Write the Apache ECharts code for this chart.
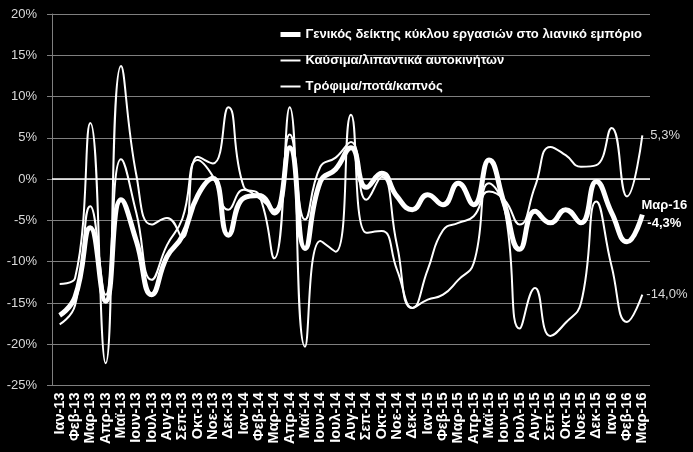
<!DOCTYPE html>
<html><head><meta charset="utf-8">
<script src="https://cdn.jsdelivr.net/npm/echarts@6/dist/echarts.min.js"></script>
<style>html,body{margin:0;padding:0;background:#000;}#c{width:693px;height:452px;}</style>
</head><body><div id="c"></div>
<script>
const categories = ['Ιαν-13','Φεβ-13','Μαρ-13','Απρ-13','Μαϊ-13','Ιουν-13','Ιουλ-13','Αυγ-13','Σεπ-13','Οκτ-13','Νοε-13','Δεκ-13',
  'Ιαν-14','Φεβ-14','Μαρ-14','Απρ-14','Μαϊ-14','Ιουν-14','Ιουλ-14','Αυγ-14','Σεπ-14','Οκτ-14','Νοε-14','Δεκ-14',
  'Ιαν-15','Φεβ-15','Μαρ-15','Απρ-15','Μαϊ-15','Ιουν-15','Ιουλ-15','Αυγ-15','Σεπ-15','Οκτ-15','Νοε-15','Δεκ-15',
  'Ιαν-16','Φεβ-16','Μαρ-16'];
const seriesNames = ['Γενικός δείκτης κύκλου εργασιών στο λιανικό εμπόριο','Καύσιμα/λιπαντικά αυτοκινήτων','Τρόφιμα/ποτά/καπνός'];
const general = [-16.5,-14.3,-5.9,-14.8,-2.5,-7.5,-14.0,-9.4,-6.9,-2.0,0.1,-6.8,
  -2.3,-2.0,-4.1,3.8,-8.4,-0.3,1.2,3.8,-1.0,0.7,-2.1,-3.7,
  -1.9,-3.1,-0.5,-3.1,2.3,-3.0,-8.5,-3.9,-5.3,-3.7,-5.3,-0.3,
  -4.1,-7.6,-4.3];
const fuel = [-17.6,-15.3,-3.3,-14.0,2.4,-4.1,-12.2,-8.0,-4.8,2.3,0.3,-3.7,
  -1.3,-2.3,-3.7,5.4,-4.9,1.5,2.6,4.5,-2.5,0.3,-8.0,-15.6,
  -14.6,-14.0,-12.2,-10.2,-0.5,-3.5,-18.1,-13.2,-19.0,-17.4,-15.0,-2.7,
  -10.6,-17.3,-14.0];
const food = [-12.7,-12.0,6.8,-22.3,13.7,0.5,-5.5,-4.7,-7.1,2.7,1.9,8.7,
  -0.9,-1.9,-9.6,8.7,-20.3,-7.5,-8.8,7.8,-6.5,-6.3,-11.0,-15.6,
  -11.0,-6.2,-5.3,-4.5,-1.5,-2.5,-5.5,-0.9,3.9,2.9,1.5,1.7,
  6.2,-2.1,5.3];
const yMin = -25, yMax = 20, yStep = 5;

const FONT = 'Liberation Sans';
const fmt = v => v.toFixed(1).replace('.', ',') + '%';
const chart = echarts.init(document.getElementById('c'), null, {renderer: 'canvas'});
const base = {type: 'line', smooth: 0.5, symbol: 'none', showSymbol: false, silent: true};
chart.setOption({
  animation: false,
  backgroundColor: '#000',
  textStyle: {fontFamily: FONT},
  grid: {left: 52, right: 43, top: 14, bottom: 66.5},
  legend: {
    orient: 'vertical', left: 273, top: 23, itemWidth: 20, itemHeight: 14, itemGap: 13,
    itemStyle: {opacity: 0},
    textStyle: {color: '#fff', fontSize: 13, fontWeight: 'bold', fontFamily: FONT},
    data: [
      {name: seriesNames[0], lineStyle: {width: 5, color: '#fff'}},
      {name: seriesNames[1], lineStyle: {width: 2, color: '#fff'}},
      {name: seriesNames[2], lineStyle: {width: 2, color: '#fff'}}
    ]
  },
  xAxis: {
    type: 'category', data: categories, boundaryGap: true,
    axisLine: {show: false}, axisTick: {show: false}, splitLine: {show: false},
    axisLabel: {rotate: 90, interval: 0, color: '#fff', fontWeight: 'bold', fontSize: 14.5, margin: 7, fontFamily: FONT}
  },
  yAxis: {
    type: 'value', min: yMin, max: yMax, interval: yStep,
    axisLine: {show: true, lineStyle: {color: '#7f7f7f', width: 1}},
    axisTick: {show: true, length: 5, lineStyle: {color: '#7f7f7f'}},
    axisLabel: {formatter: v => v + '%', color: '#d9d9d9', fontSize: 13, margin: 15, fontFamily: FONT},
    splitLine: {lineStyle: {color: '#7f7f7f', width: 1}}
  },
  series: [
    Object.assign({}, base, {
      name: seriesNames[1], data: fuel, lineStyle: {color: '#fff', width: 2}, itemStyle: {color: '#fff'},
      markLine: {silent: true, symbol: 'none', label: {show: false}, lineStyle: {color: '#fff', width: 1.5, type: 'solid'}, data: [{yAxis: 0}]},
      endLabel: {show: true, formatter: p => fmt(p.value), color: '#d9d9d9', fontSize: 13, distance: 4}
    }),
    Object.assign({}, base, {
      name: seriesNames[2], data: food, lineStyle: {color: '#fff', width: 2}, itemStyle: {color: '#fff'},
      endLabel: {show: true, formatter: p => fmt(p.value), color: '#d9d9d9', fontSize: 13, distance: 8}
    }),
    Object.assign({}, base, {
      name: seriesNames[0], data: general, lineStyle: {color: '#fff', width: 5}, itemStyle: {color: '#fff'},
      endLabel: {show: true, formatter: p => categories[categories.length - 1] + '\n' + fmt(p.value),
        color: '#fff', fontWeight: 'bold', fontSize: 13, lineHeight: 18, align: 'center', distance: 22}
    })
  ]
});
</script></body></html>
